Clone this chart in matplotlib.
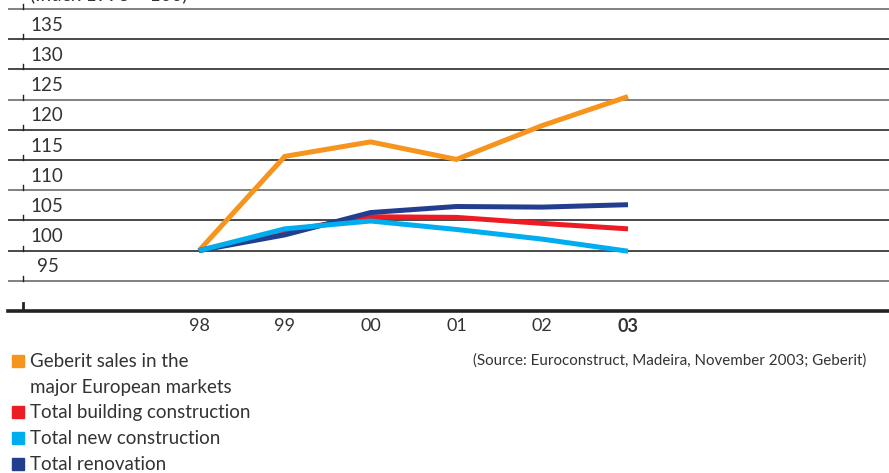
import matplotlib
matplotlib.use("Agg")
import matplotlib.pyplot as plt
from matplotlib.patches import Rectangle

plt.rcParams['font.family'] = ['Lato', 'DejaVu Sans']

years = ["98", "99", "00", "01", "02", "03"]
geberit = [100.0, 115.6, 118.0, 115.1, 120.7, 125.5]
building = [100.0, 103.2, 105.6, 105.5, 104.5, 103.6]
new_constr = [100.0, 103.6, 104.9, 103.5, 101.9, 99.9]
renovation = [100.0, 102.6, 106.3, 107.3, 107.2, 107.6]
yticks = [95, 100, 105, 110, 115, 120, 125, 130, 135]
grid_vals = [95, 100, 105, 110, 115, 120, 125, 130, 135, 140]

labels = ["Geberit sales in the\nmajor European markets", "Total building construction",
          "Total new construction", "Total renovation"]
colors = ["#F7941D", "#ED1C24", "#00AEEF", "#233E8F"]

W, H = 889, 473
fig = plt.figure(figsize=(W/100, H/100), dpi=100)
ax = fig.add_axes([8/W, (H-311)/H, (W-8)/W, 311/H])
px_per_x = 85.8
x0 = -(199-8)/px_per_x
x1 = (W-199)/px_per_x
ax.set_xlim(x0, x1)
ax.set_ylim(90, 90 + 311/6.04)
for s in ax.spines.values():
    s.set_visible(False)
ax.set_xticks([]); ax.set_yticks([])

for i, g in enumerate(grid_vals):
    c = '#3a3a3a' if i % 3 != 0 else '#777777'
    ax.axhline(g, color=c, lw=1.3, zorder=1)
ax.axhline(90, color='#222222', lw=2.6, zorder=1, clip_on=False)

# small ticks at left
tx = x0 + (23-8)/px_per_x
for g in grid_vals:
    ax.plot([tx, tx], [g, g + 5/6.04], color='#222222', lw=1.0, zorder=2)
ax.plot([tx, tx], [90, 90 + 8/6.04], color='#222222', lw=2.0, zorder=2)

# y labels
lx = x0 + (30-8)/px_per_x
for v in yticks:
    ax.text(lx + (0.08 if v < 100 else 0), v + 14/6.04, str(v), ha='left', va='center',
            fontsize=13.5, color='#333333')

xs = list(range(len(years)))
series = [geberit, building, new_constr, renovation]
z = [2, 3, 5, 4]
for ys, c, zz in zip(series, colors, z):
    ax.plot(xs, ys, color=c, lw=3.6, zorder=zz, solid_capstyle='butt', solid_joinstyle='miter')

for i, y in enumerate(years):
    ax.text(i, 90 - 15/6.04, y, ha='center', va='center', fontsize=13,
            color='#333333', fontweight='bold' if y == '03' else 'normal', clip_on=False)

# top clipped label (cut off at the top edge as in the source)
fig.text(30/W, 1 + 6/H, "(Index 1998 = 100)", ha='left', va='center', fontsize=13.5, color='#333333')

# legend
rows = [361, 412, 438, 464]
for lab, c, r in zip(labels, colors, rows):
    fig.patches.append(Rectangle((12/W, (H-r-6)/H), 12/W, 12/H, transform=fig.transFigure,
                                 color=c, figure=fig))
    if '\n' in lab:
        l1, l2 = lab.split('\n')
        fig.text(30/W, (H-r)/H, l1, ha='left', va='center', fontsize=13.5, color='#333333')
        fig.text(30/W, (H-r-26)/H, l2, ha='left', va='center', fontsize=13.5, color='#333333')
    else:
        fig.text(30/W, (H-r)/H, lab, ha='left', va='center', fontsize=13.5, color='#333333')

fig.text(866/W, (H-361)/H, "(Source: Euroconstruct, Madeira, November 2003; Geberit)",
         ha='right', va='center', fontsize=10.9, color='#333333')

fig.savefig("out.png", dpi=100)
